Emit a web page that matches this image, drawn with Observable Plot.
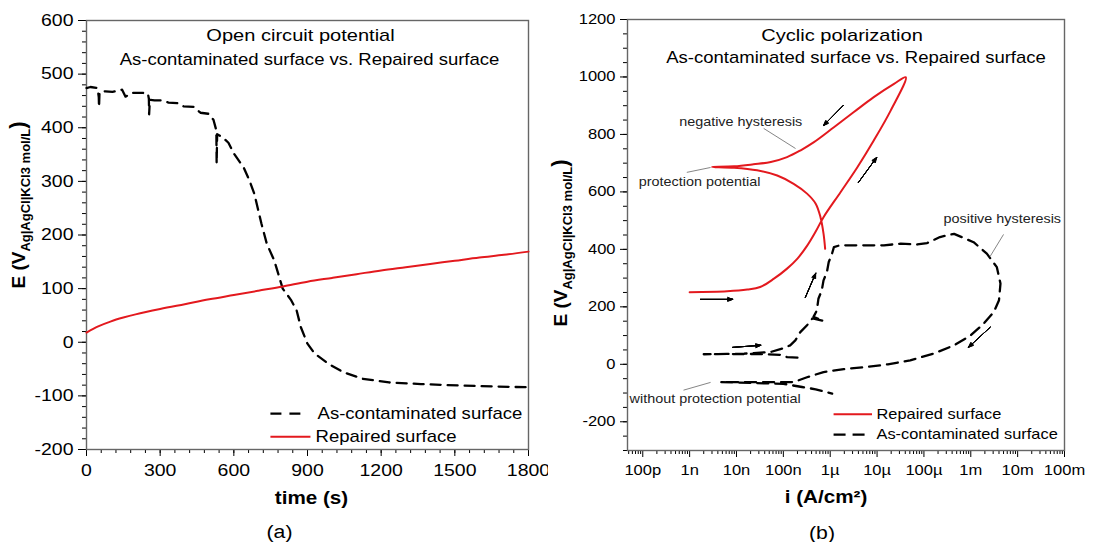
<!DOCTYPE html>
<html><head><meta charset="utf-8">
<script src="https://cdn.jsdelivr.net/npm/d3@7"></script>
<script src="https://cdn.jsdelivr.net/npm/@observablehq/plot@0.6"></script>
<style>
body{margin:0;background:#fff;}
#wrap{position:relative;width:1095px;height:542px;overflow:hidden;background:#fff;}
#a{position:absolute;left:0;top:0;}
#b{position:absolute;left:548px;top:0;}
svg{overflow:visible;}
</style></head><body><div id="wrap"><div id="a"></div><div id="b"></div></div>
<script>
const FONT = '"Liberation Sans", Arial, sans-serif';
const RED = "#e3191e";
const STRETCH = 1.18;

// ---------- Panel (a): open circuit potential ----------
const ocpTitle = "Open circuit potential";
const ocpSubtitle = "As-contaminated surface vs. Repaired surface";
const ocpXLabel = "time (s)";
const ocpCaption = "(a)";
const ocpXTicks = [0, 300, 600, 900, 1200, 1500, 1800];
const ocpYTicks = [-200, -100, 0, 100, 200, 300, 400, 500, 600];
const ocpSeries = ["As-contaminated surface", "Repaired surface"];

const ocpRepairedTime = [0,50,100,150,200,300,400,500,600,700,800,900,1000,1100,1200,1300,1400,1500,1600,1700,1800];
const ocpRepairedE    = [18,30,39,46,52,62,71,80,88,96,104,113,120,127,134,140,146,152,158,163,169];

const ocpContamTime = [0,16,45,50,51,53,77,106,145,159,186,227,250,254,255,258,277,304,334,369,395,436,464,497,517,527,529,530,532,552,578,600,641,665,684,700,712,734,765,799,834,856,873,899,929,985,1046,1124,1232,1362,1535,1800];
const ocpContamE    = [474,476,474,457,438,466,468,467,471,458,465,465,464,454,425,452,451,451,447,446,440,439,428,426,415,398,385,333,388,383,372,352,325,300,276,245,222,184,152,100,78,59,28,-2,-21,-40,-56,-68,-75,-78,-81,-84];

// ---------- Panel (b): cyclic polarization ----------
const cpTitle = "Cyclic polarization";
const cpSubtitle = "As-contaminated surface vs. Repaired surface";
const cpXLabel = "i (A/cm²)";
const cpCaption = "(b)";
const cpXTickValues = [1e-10,1e-9,1e-8,1e-7,1e-6,1e-5,1e-4,1e-3,1e-2,1e-1];
const cpXTickLabels = ["100p","1n","10n","100n","1µ","10µ","100µ","1m","10m","100m"];
const cpYTicks = [-200, 0, 200, 400, 600, 800, 1000, 1200];
const cpSeries = ["Repaired surface", "As-contaminated surface"];

const cpRepairedI = [1.0e-9,6.3e-9,1.7e-8,3.2e-8,6.3e-8,1.2e-7,2.0e-7,3.2e-7,4.9e-7,7.2e-7,1.66e-6,3.8e-6,8.5e-6,1.95e-5,4.1e-5,
                     2.3e-5,8.5e-6,3.2e-6,1.2e-6,4.5e-7,2.3e-7,1.2e-7,5.4e-8,2.3e-8,8.9e-9,3.0e-9,
                     8.9e-9,2.75e-8,7.4e-8,1.66e-7,3.2e-7,4.9e-7,6.2e-7,7.2e-7,7.8e-7];
const cpRepairedE = [251,254,260,269,298,333,368,412,462,512,599,686,779,883,999,
                     976,930,878,825,773,744,721,704,696,689,687,
                     684,675,657,628,594,559,512,455,402];

const cpContamI = [2.0e-7,1.2e-7,8.9e-8,2.5e-8,2.0e-9,6.3e-9,1.45e-8,5.4e-8,9.5e-8,1.4e-7,1.8e-7,2.3e-7,3.2e-7,4.2e-7,7.2e-7,4.4e-7,5.2e-7,5.6e-7,6.6e-7,7.2e-7,8.5e-7,9.3e-7,1.07e-6,1.2e-6,1.6e-6,1.8e-6,
                   1.4e-5,3.2e-5,7.2e-5,1.17e-4,2.2e-4,4.4e-4,1.15e-3,2.2e-3,3.6e-3,4.3e-3,4.0e-3,3.1e-3,1.9e-3,1.0e-3,4.4e-4,1.6e-4,5.1e-5,1.7e-5,6.2e-6,1.95e-6,7.2e-7,3.2e-7,1.65e-7,4.6e-9,
                   1.0e-7,2.5e-7,4.9e-7,1.1e-6];
const cpContamE = [23,25,33,36,35,36,37,43,55,66,83,112,136,160,151,165,188,228,257,292,321,356,380,408,414,414,
                   414,420,417,422,443,454,425,385,338,281,223,182,142,101,66,37,14,0,-9,-17,-27,-45,-62,-62,
                   -68,-79,-87,-102];

// annotations (data coordinates)
const cpNotes = ["negative hysteresis","protection potential","positive hysteresis","without protection potential"];
const cpNoteI = [1.23e-8, 1.63e-9, 4.7e-3, 3.5e-9];
const cpNoteE = [842, 634, 506, -122];
const cpLeaderI1 = [3.8e-8, 8.7e-10, 5.0e-3, 7.4e-10];
const cpLeaderE1 = [821, 668, 452, -90];
const cpLeaderI2 = [1.82e-7, 2.8e-9, 2.6e-3, 2.8e-9];
const cpLeaderE2 = [751, 685, 376, -63];
const cpArrowI1 = [1.9e-6, 4.0e-6, 1.7e-9, 2.95e-7, 8.3e-9, 2.6e-3];
const cpArrowE1 = [901, 633, 226, 233, 59, 129];
const cpArrowI2 = [7.2e-7, 9.8e-6, 8.3e-9, 4.9e-7, 3.3e-8, 8.9e-4];
const cpArrowE2 = [831, 720, 226, 317, 66, 59];

// ---------- tables ----------
const ocpRep = ocpRepairedTime.map((t, k) => ({t, E: ocpRepairedE[k]}));
const ocpCon = ocpContamTime.map((t, k) => ({t, E: ocpContamE[k]}));
const cpRep = cpRepairedI.map((i, k) => ({i, E: cpRepairedE[k]}));
const cpCon = cpContamI.map((i, k) => ({i, E: cpContamE[k]}));
const notes = cpNotes.map((label, k) => ({label, i: cpNoteI[k], E: cpNoteE[k]}));
const leaders = cpLeaderI1.map((v, k) => ({i1: v, E1: cpLeaderE1[k], i2: cpLeaderI2[k], E2: cpLeaderE2[k]}));
const arrows = cpArrowI1.map((v, k) => ({i1: v, E1: cpArrowE1[k], i2: cpArrowI2[k], E2: cpArrowE2[k]}));

const logMinor = [];
for (let e = -11; e <= -2; e++) for (let m = 2; m <= 9; m++) { const v = m * Math.pow(10, e); if (v > 4.72e-11 && v < 0.1) logMinor.push(v); }

const blank = () => "";

function arrowMarks(data, opts) {
  return [45, 34, 24, 14, 5].map(a => Plot.arrow(data, {...opts, headAngle: a}));
}

// ---------- Plot (a) ----------
const plotA = Plot.plot({
  width: 548, height: 542,
  marginLeft: 86, marginRight: 20, marginTop: 20, marginBottom: 93,
  style: {fontFamily: FONT, color: "#000", background: "#fff"},
  x: {domain: [0, 1800]},
  y: {domain: [-200, 600]},
  marks: [
    Plot.axisY(d3.range(-200, 601, 20), {tickSize: 4, tickFormat: blank, label: null}),
    Plot.axisY(ocpYTicks, {tickSize: 8, tickPadding: 5, fontSize: 16.5, tickFormat: d => String(d), label: null}),
    Plot.axisX(d3.range(0, 1801, 60), {tickSize: 4, tickFormat: blank, label: null}),
    Plot.axisX(ocpXTicks, {tickSize: 7, tickPadding: 8, fontSize: 16.5, tickFormat: d => String(d), label: null}),
    Plot.frame({stroke: "#666", strokeWidth: 1.4}),
    Plot.line(ocpCon, {x: "t", y: "E", stroke: "#000", strokeWidth: 2.3, strokeDasharray: "10,7"}),
    Plot.line(ocpRep, {x: "t", y: "E", stroke: RED, strokeWidth: 2, curve: "catmull-rom"}),
    // legend
    Plot.link([ocpSeries[0]], {x1: 749, x2: 871, y1: -133, y2: -133, stroke: "#000", strokeWidth: 2.3, strokeDasharray: "11,8"}),
    Plot.link([ocpSeries[1]], {x1: 749, x2: 912, y1: -176, y2: -176, stroke: RED, strokeWidth: 2}),
    Plot.text([ocpSeries[0]], {x: 941, y: -133, text: d => d, textAnchor: "start", fontSize: 15.7}),
    Plot.text([ocpSeries[1]], {x: 933, y: -176, text: d => d, textAnchor: "start", fontSize: 15.7}),
    // titles & labels
    Plot.text([ocpTitle], {text: d => d, frameAnchor: "top", lineAnchor: "middle", dx: -7, dy: 15, fontSize: 17}),
    Plot.text([ocpSubtitle], {text: d => d, frameAnchor: "top", lineAnchor: "middle", dx: 2, dy: 39, fontSize: 15.7}),
    Plot.text([ocpXLabel], {text: d => d, frameAnchor: "bottom", lineAnchor: "middle", dx: 4, dy: 49, fontSize: 17.5, fontWeight: "bold"}),
    Plot.text([ocpCaption], {text: d => d, frameAnchor: "bottom", lineAnchor: "middle", dx: -28, dy: 83, fontSize: 18})
  ]
});

// ---------- Plot (b) ----------
const plotB = Plot.plot({
  width: 547, height: 542,
  marginLeft: 79, marginRight: 31, marginTop: 19, marginBottom: 92,
  style: {fontFamily: FONT, color: "#000", background: "#fff"},
  x: {type: "log", domain: [4.72e-11, 0.1]},
  y: {domain: [-300, 1200]},
  marks: [
    Plot.axisY(d3.range(-300, 1201, 50), {tickSize: 4, tickFormat: blank, label: null}),
    Plot.axisY(cpYTicks, {tickSize: 7, tickPadding: 5, fontSize: 14, tickFormat: d => String(d), label: null}),
    Plot.axisX(logMinor, {tickSize: 4, tickFormat: blank, label: null}),
    Plot.axisX(cpXTickValues, {tickSize: 7, tickPadding: 8, fontSize: 14,
      tickFormat: d => cpXTickLabels[cpXTickValues.findIndex(v => Math.abs(Math.log10(v) - Math.log10(d)) < 0.01)], label: null}),
    Plot.frame({stroke: "#666", strokeWidth: 1.4}),
    Plot.line(cpCon, {x: "i", y: "E", stroke: "#000", strokeWidth: 2.3, strokeDasharray: "11,7"}),
    Plot.line(cpRep, {x: "i", y: "E", stroke: RED, strokeWidth: 2, curve: "catmull-rom"}),
    // annotations
    Plot.link(leaders, {x1: "i1", y1: "E1", x2: "i2", y2: "E2", stroke: "#777", strokeWidth: 0.9}),
    ...arrowMarks(arrows, {x1: "i1", y1: "E1", x2: "i2", y2: "E2", stroke: "#000", strokeWidth: 1, headLength: 8}),
    Plot.text(notes, {x: "i", y: "E", text: "label", fontSize: 12.2, fill: "#222"}),
    // legend
    Plot.link([cpSeries[0]], {x1: 1.18e-6, x2: 7.8e-6, y1: -174, y2: -174, stroke: RED, strokeWidth: 2}),
    Plot.link([cpSeries[1]], {x1: 1.18e-6, x2: 5.6e-6, y1: -245, y2: -245, stroke: "#000", strokeWidth: 2.3, strokeDasharray: "12,7"}),
    Plot.text([cpSeries[0]], {x: 9.7e-6, y: -174, text: d => d, textAnchor: "start", fontSize: 13.9}),
    Plot.text([cpSeries[1]], {x: 9.7e-6, y: -245, text: d => d, textAnchor: "start", fontSize: 13.9}),
    // titles & labels
    Plot.text([cpTitle], {text: d => d, frameAnchor: "top", lineAnchor: "middle", dx: -4, dy: 16, fontSize: 17}),
    Plot.text([cpSubtitle], {text: d => d, frameAnchor: "top", lineAnchor: "middle", dx: 10, dy: 38, fontSize: 15.7}),
    Plot.text([cpXLabel], {text: d => d, frameAnchor: "bottom", lineAnchor: "middle", dx: -20, dy: 47, fontSize: 17.5, fontWeight: "bold"}),
    Plot.text([cpCaption], {text: d => d, frameAnchor: "bottom", lineAnchor: "middle", dx: -24, dy: 83, fontSize: 18})
  ]
});

document.getElementById("a").appendChild(plotA);
document.getElementById("b").appendChild(plotB);

function stretchText(svg, f) {
  svg.querySelectorAll("text").forEach(t => {
    const L = t.getComputedTextLength();
    if (L > 0) { t.setAttribute("textLength", (L * f).toFixed(2)); t.setAttribute("lengthAdjust", "spacingAndGlyphs"); }
  });
}
stretchText(plotA, STRETCH);
stretchText(plotB, STRETCH);

// y-axis label with subscript (real text)
const yMain = "E (V", ySub = "Ag|AgCl|KCl3 mol/L", yEnd = ")";
function addYLabel(svg, x, y) {
  const t = d3.select(svg).append("text")
    .attr("transform", `translate(${x},${y}) rotate(-90)`)
    .attr("text-anchor", "middle")
    .attr("font-family", FONT).attr("font-weight", "bold").attr("fill", "#000");
  t.append("tspan").attr("font-size", 19).text(yMain);
  t.append("tspan").attr("font-size", 13).attr("dy", 5).text(ySub);
  t.append("tspan").attr("font-size", 22).attr("dy", -5).text(yEnd);
}
addYLabel(plotA, 25, 205);
addYLabel(plotB, 19, 243);
</script>
</body></html>
